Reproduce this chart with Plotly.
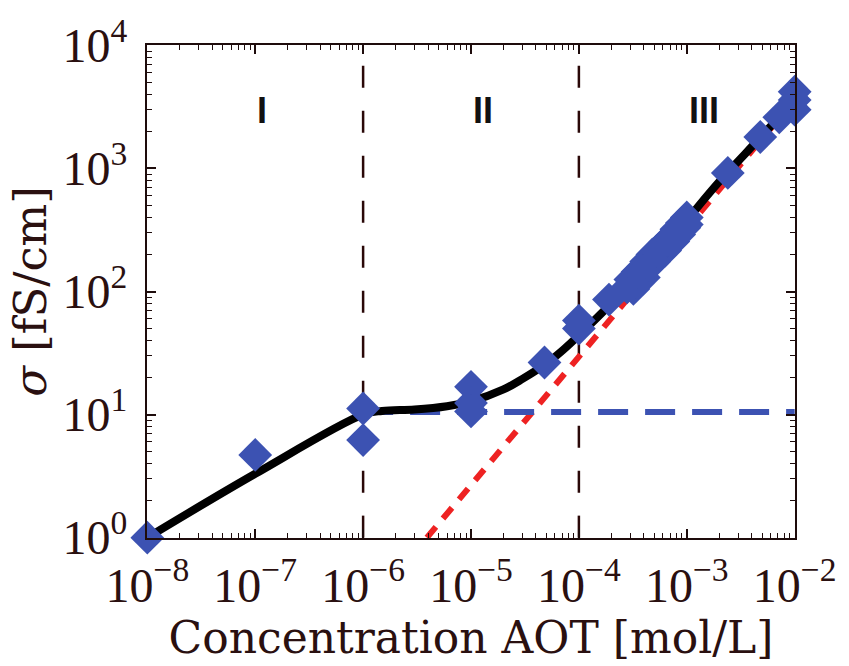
import plotly.graph_objects as go
import numpy as np

# ---- data ----
conc = [1e-8, 1e-7, 1e-6, 1e-6, 1e-5, 1e-5, 1e-5, 4.8e-5, 1e-4, 1e-4, 1.9e-4,
        2.8e-4, 3.0e-4, 3.2e-4, 3.4e-4, 3.5e-4, 3.8e-4, 4.0e-4, 4.2e-4, 4.5e-4,
        4.8e-4, 5.0e-4, 5.3e-4, 5.6e-4, 6.0e-4, 6.3e-4, 6.6e-4, 7.0e-4, 7.5e-4,
        8.0e-4, 8.5e-4, 9.0e-4, 9.5e-4, 1.0e-3, 1.0e-3,
        2.4e-3, 4.8e-3, 7.2e-3, 1e-2, 1e-2, 1e-2]
sigma = [1.0, 4.7, 11.2, 6.2, 16.8, 12.4, 10.6, 26.5, 58, 50, 86,
         108, 125, 105, 120, 145, 150, 130, 175, 165,
         200, 175, 215, 200, 240, 215, 260, 275, 255,
         320, 290, 360, 330, 400, 350,
         920, 1800, 2600, 4200, 3000, 3600]

fit_c = [1e-8, 1e-7, 1e-6, 1.5e-6, 3e-6, 6e-6, 1e-5, 2e-5, 3e-5, 5e-5, 7e-5,
         1e-4, 2e-4, 5e-4, 1e-3, 2e-3, 5e-3, 1e-2]
fit_s = [1.0, 3.3, 10.0, 10.7, 11.0, 11.7, 12.8, 16.0, 19.5, 26.0, 33.0,
         44.0, 80.0, 185.0, 380.0, 780.0, 1850.0, 3600.0]

plateau_c = [1e-6, 1e-2]
plateau_s = [10.5, 10.5]

power_c = [3.9e-6, 1e-2]
power_s = [1.0, 3600.0]

boundary_c = [1e-6, 1e-4]
region_labels = ["I", "II", "III"]
region_c = [1.15e-7, 1.3e-5, 1.45e-3]
region_s = [2950, 2950, 2950]

xtick_vals = [1e-8, 1e-7, 1e-6, 1e-5, 1e-4, 1e-3, 1e-2]
xtick_text = ["10<sup>−8</sup>", "10<sup>−7</sup>", "10<sup>−6</sup>", "10<sup>−5</sup>",
              "10<sup>−4</sup>", "10<sup>−3</sup>", "10<sup>−2</sup>"]
ytick_vals = [1, 10, 100, 1000, 10000]
ytick_text = ["10<sup>0</sup>", "10<sup>1</sup>", "10<sup>2</sup>", "10<sup>3</sup>", "10<sup>4</sup>"]

x_minor = [k * 10.0 ** e for e in range(-8, -2) for k in range(2, 10)]
y_minor = [k * 10.0 ** e for e in range(0, 4) for k in range(2, 10)]

AXC = "#1e0c0c"
TXT = "#2a1010"
BLUE = "#3c52b2"
SERIF = "Liberation Serif"
TSERIF = "DejaVu Serif"

fig = go.Figure()

for bc in boundary_c:
    fig.add_trace(go.Scatter(x=[bc, bc], y=[1, 10000], mode="lines",
                             line=dict(color="#2a0808", width=2.5, dash="22px,23px"),
                             showlegend=False, hoverinfo="skip"))

fig.add_trace(go.Scatter(x=power_c, y=power_s, mode="lines",
                         line=dict(color="#ee2222", width=6, dash="14px,11px"),
                         showlegend=False))
fig.add_trace(go.Scatter(x=plateau_c, y=plateau_s, mode="lines",
                         line=dict(color=BLUE, width=6, dash="30px,17px"),
                         showlegend=False))
fig.add_trace(go.Scatter(x=fit_c, y=fit_s, mode="lines", line_shape="spline",
                         line=dict(color="black", width=8),
                         showlegend=False))
fig.add_trace(go.Scatter(x=conc, y=sigma, mode="markers",
                         marker=dict(symbol="diamond", size=26, color=BLUE,
                                     line=dict(width=0)),
                         showlegend=False, cliponaxis=False))

for lab, c, s in zip(region_labels, region_c, region_s):
    fig.add_annotation(x=np.log10(c), y=np.log10(s), text="<b>" + lab + "</b>",
                       showarrow=False,
                       font=dict(family="Liberation Sans", size=36, color="#111"),
                       xanchor="center", yanchor="middle")

axis_common = dict(type="log", showline=True, linecolor=AXC, linewidth=2,
                   mirror="allticks", ticks="inside", ticklen=9, tickwidth=1.5,
                   tickcolor=AXC, showgrid=False, zeroline=False,
                   tickfont=dict(family=SERIF, size=48, color=TXT))

fig.update_xaxes(**axis_common, range=[-8.003, -1.997], tickvals=xtick_vals,
                 ticktext=xtick_text, ticklabelstandoff=4, ticklabeloverflow="allow",
                 minor=dict(tickvals=x_minor, ticks="inside", ticklen=5, tickwidth=1.2,
                            tickcolor=AXC, showgrid=False),
                 title=dict(text="Concentration AOT [mol/L]",
                            font=dict(family=TSERIF, size=44, color=TXT),
                            standoff=0))
fig.update_yaxes(**axis_common, range=[-0.003, 4.003], tickvals=ytick_vals,
                 ticktext=ytick_text, ticklabelstandoff=8, ticklabeloverflow="allow",
                 minor=dict(tickvals=y_minor, ticks="inside", ticklen=5, tickwidth=1.2,
                            tickcolor=AXC, showgrid=False),
                 title=dict(text="<i>σ</i> [fS/cm]",
                            font=dict(family=TSERIF, size=45, color=TXT),
                            standoff=2))

fig.update_layout(width=849, height=666, margin=dict(l=147, r=41, t=43, b=128),
                  plot_bgcolor="white", paper_bgcolor="white")

fig.write_html("out.html")
